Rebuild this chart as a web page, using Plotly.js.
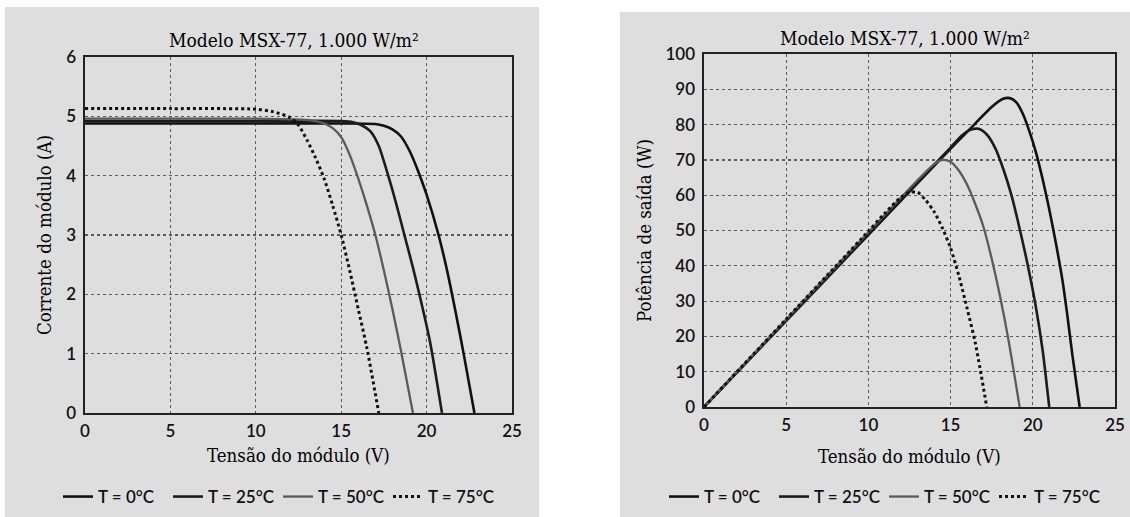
<!DOCTYPE html>
<html>
<head>
<meta charset="utf-8">
<script src="https://cdn.plot.ly/plotly-3.0.1.min.js"></script>
<style>html,body{margin:0;padding:0;background:#fff;}#chart{width:1130px;height:517px;}</style>
</head>
<body>
<div id="chart"></div>
<script>
// ---- data ----
const chartTitle = "Modelo MSX-77, 1.000 W/m²";
const seriesNames = ["T = 0°C", "T = 25°C", "T = 50°C", "T = 75°C"];

// I-V curves (Tensão V, Corrente A)
const iv0V  = [0, 5, 10, 15, 17, 17.5, 18, 18.5, 19, 19.5, 20, 20.7, 21.2, 21.7, 22.2, 22.8];
const iv0I  = [4.88, 4.88, 4.88, 4.88, 4.87, 4.84, 4.78, 4.66, 4.42, 4.08, 3.68, 3.0, 2.4, 1.7, 0.95, 0];
const iv25V = [0, 5, 10, 15, 15.7, 16.2, 16.7, 17.2, 17.7, 18.2, 18.7, 19.2, 19.7, 20.2, 20.9];
const iv25I = [4.92, 4.92, 4.92, 4.92, 4.9, 4.85, 4.75, 4.5, 4.05, 3.55, 3.0, 2.45, 1.85, 1.2, 0];
const iv50V = [0, 5, 10, 13, 14, 14.5, 15, 15.5, 16, 16.5, 17, 17.5, 18, 18.5, 19.2];
const iv50I = [4.96, 4.96, 4.96, 4.94, 4.88, 4.8, 4.65, 4.35, 3.95, 3.5, 3.0, 2.4, 1.75, 1.05, 0];
const iv75V = [0, 5, 10, 11, 12, 12.5, 13, 13.5, 14, 14.5, 15, 15.5, 16, 16.5, 17.2];
const iv75I = [5.13, 5.13, 5.12, 5.08, 4.98, 4.85, 4.6, 4.3, 3.95, 3.5, 3.0, 2.4, 1.75, 1.1, 0];

// P-V curves (Tensão V, Potência W)
const pv0V  = [0, 5, 10, 15, 16.5, 17.5, 18.2, 18.6, 19.0, 19.4, 19.8, 20.2, 20.6, 21.0, 21.4, 21.8, 22.1, 22.4, 22.85];
const pv0P  = [0, 24.4, 48.8, 73.2, 80.3, 85, 87.3, 87.5, 86.3, 83, 78, 72, 64.5, 56, 46.5, 36, 26, 15, 0];
const pv25V = [0, 5, 10, 15, 15.7, 16.2, 16.7, 17.2, 17.7, 18.2, 18.7, 19.2, 19.7, 20.2, 20.6, 21.0];
const pv25P = [0, 24.6, 49.2, 73.5, 77, 78.5, 78.8, 77.2, 73.5, 67.5, 60, 50.5, 40, 28, 16, 0];
const pv50V = [0, 5, 10, 13, 14, 14.5, 15, 15.5, 16, 16.5, 17, 17.5, 18, 18.5, 19.2];
const pv50P = [0, 24.8, 49.5, 64.3, 68.8, 70, 69.5, 67, 63, 57.5, 51, 42, 31.5, 19.5, 0];
const pv75V = [0, 5, 10, 11, 12, 12.5, 13, 13.5, 14, 14.5, 15, 15.5, 16, 16.5, 17.2];
const pv75P = [0, 24.9, 49.8, 54.9, 59.5, 60.8, 60.8, 58.5, 55.3, 50.7, 45, 37.2, 28, 18.2, 0];

const xTicks = [0, 5, 10, 15, 20, 25];
const iTicks = [0, 1, 2, 3, 4, 5, 6];
const pTicks = [0, 10, 20, 30, 40, 50, 60, 70, 80, 90, 100];
const xTitle = "Tensão do módulo (V)";
const iTitle = "Corrente do módulo (A)";
const pTitle = "Potência de saída (W)";

// ---- styling ----
const styles = [
  {color: "#111111", width: 2.6, dash: "solid"},
  {color: "#1c1c1c", width: 2.6, dash: "solid"},
  {color: "#5a5a5a", width: 2.3, dash: "solid"},
  {color: "#111111", width: 3, dash: "dot"}
];
const ivSets = [[iv0V, iv0I], [iv25V, iv25I], [iv50V, iv50I], [iv75V, iv75I]];
const pvSets = [[pv0V, pv0P], [pv25V, pv25P], [pv50V, pv50P], [pv75V, pv75P]];

const traces = [];
ivSets.forEach((s, k) => traces.push({
  x: s[0], y: s[1], type: "scatter", mode: "lines", name: seriesNames[k],
  line: {color: styles[k].color, width: styles[k].width, dash: styles[k].dash, shape: "spline", smoothing: 0.7},
  xaxis: "x", yaxis: "y", legend: "legend", hoverinfo: "x+y"
}));
pvSets.forEach((s, k) => traces.push({
  x: s[0], y: s[1], type: "scatter", mode: "lines", name: seriesNames[k],
  line: {color: styles[k].color, width: styles[k].width, dash: styles[k].dash, shape: "spline", smoothing: 0.7},
  xaxis: "x2", yaxis: "y2", legend: "legend2", hoverinfo: "x+y"
}));

const W = 1130, H = 517;
const px = v => v / W, py = v => 1 - v / H;

const tickFont = {family: "Lato, 'Open Sans', sans-serif", size: 17, color: "#111", weight: 600};
const serifFont = {family: "'DejaVu Serif Condensed', 'DejaVu Serif', serif", size: 18.5, color: "#000"};
const titleFont = {family: "'DejaVu Serif Condensed', 'DejaVu Serif', serif", size: 19, color: "#000"};
const gridColor = "#5c5c5c";

function xAxis(domain, anchor, standoff) {
  return {
    domain: domain, anchor: anchor, range: [0, 25], tickvals: xTicks, ticktext: xTicks.map(String),
    showline: true, mirror: true, linecolor: "#222", linewidth: 1.6,
    showgrid: true, gridcolor: gridColor, griddash: "dot", gridwidth: 1.2,
    zeroline: false, ticks: "outside", ticklen: 2, tickcolor: "rgba(0,0,0,0)",
    tickfont: tickFont, fixedrange: true,
    title: {text: xTitle, font: serifFont, standoff: standoff}
  };
}
function yAxis(domain, anchor, range, ticks, title) {
  return {
    domain: domain, anchor: anchor, range: range, tickvals: ticks, ticktext: ticks.map(String),
    showline: true, mirror: true, linecolor: "#222", linewidth: 1.6,
    showgrid: true, gridcolor: gridColor, griddash: "dot", gridwidth: 1.2,
    zeroline: false, ticks: "outside", ticklen: 4, tickcolor: "rgba(0,0,0,0)",
    tickfont: tickFont, fixedrange: true,
    title: {text: title, font: serifFont, standoff: 9}
  };
}

const legendBase = {
  orientation: "h", xanchor: "left", yanchor: "middle",
  bgcolor: "rgba(0,0,0,0)", font: {family: "Lato, 'Open Sans', sans-serif", size: 17, color: "#111", weight: 600},
  itemwidth: 30, entrywidth: 65, entrywidthmode: "pixels", traceorder: "normal"
};

const layout = {
  width: W, height: H,
  margin: {l: 0, r: 0, t: 0, b: 0},
  paper_bgcolor: "#ffffff", plot_bgcolor: "rgba(0,0,0,0)",
  showlegend: true,
  xaxis: xAxis([px(85), px(512)], "y", 9),
  yaxis: yAxis([py(413), py(57)], "x", [0, 6], iTicks, iTitle),
  xaxis2: xAxis([px(704), px(1115)], "y2", 16),
  yaxis2: yAxis([py(407), py(54)], "x2", [0, 100], pTicks, pTitle),
  legend: Object.assign({}, legendBase, {x: px(58), y: py(497)}),
  legend2: Object.assign({}, legendBase, {x: px(664), y: py(497)}),
  shapes: [
    {type: "rect", xref: "paper", yref: "paper", x0: px(5), x1: px(539), y0: 0, y1: py(7),
     fillcolor: "#dedede", line: {width: 0}, layer: "below"},
    {type: "rect", xref: "paper", yref: "paper", x0: px(620), x1: 1, y0: 0, y1: py(12),
     fillcolor: "#dedede", line: {width: 0}, layer: "below"}
  ],
  annotations: [
    {text: chartTitle, xref: "paper", yref: "paper", x: px(294), y: py(40), xanchor: "center", yanchor: "middle",
     showarrow: false, font: titleFont},
    {text: chartTitle, xref: "paper", yref: "paper", x: px(905), y: py(38), xanchor: "center", yanchor: "middle",
     showarrow: false, font: titleFont}
  ]
};

Plotly.newPlot("chart", traces, layout, {displayModeBar: false, staticPlot: true});
</script>
</body>
</html>
